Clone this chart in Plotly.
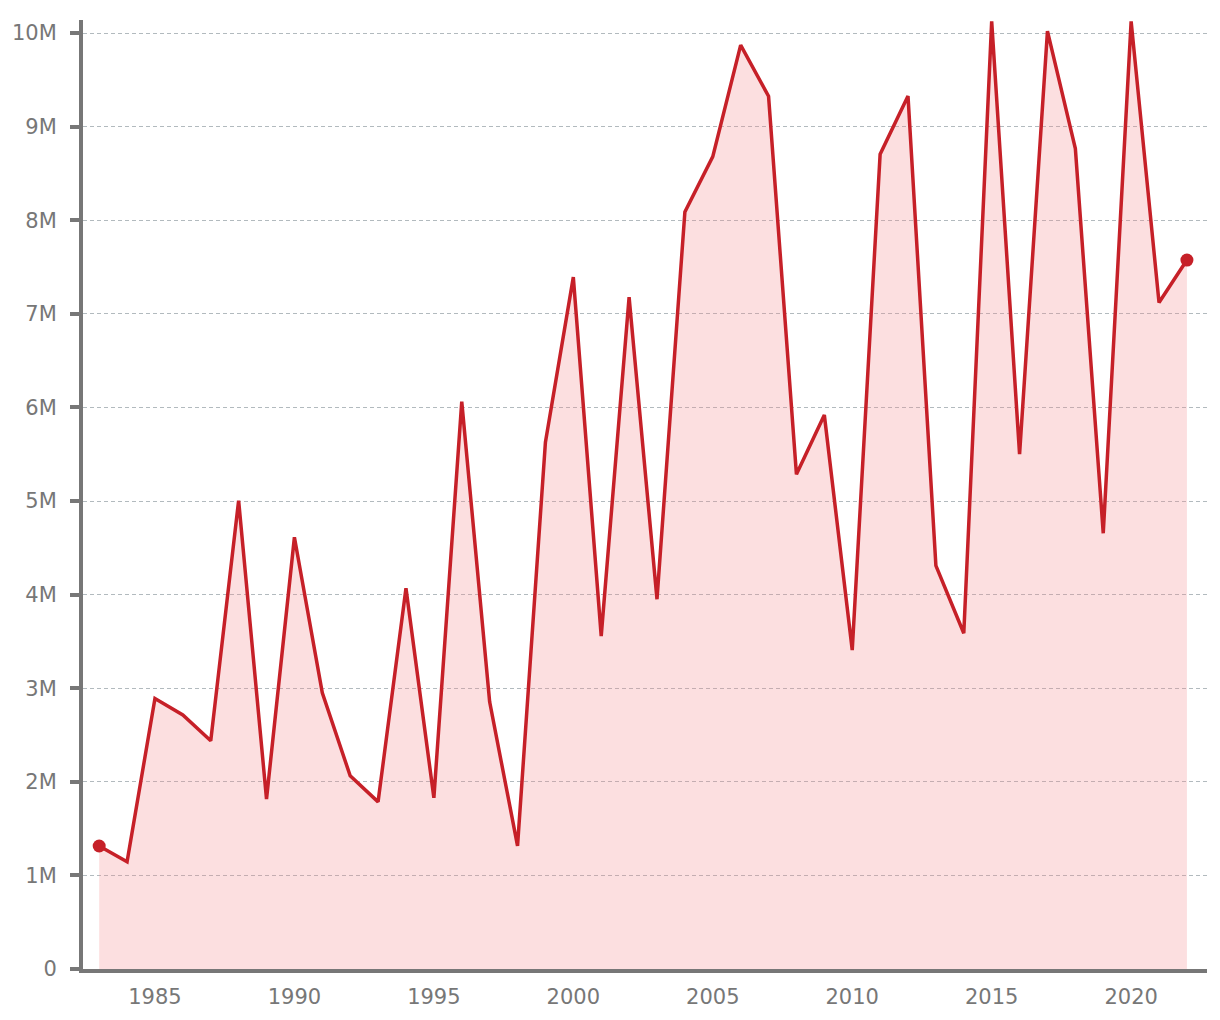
import plotly.graph_objects as go

years = list(range(1983, 2023))
values_m = [1.314, 1.146, 2.89, 2.714, 2.438, 5.005, 1.816, 4.613, 2.95, 2.064,
            1.786, 4.068, 1.829, 6.063, 2.855, 1.316, 5.63, 7.393, 3.558, 7.179,
            3.951, 8.09, 8.68, 9.872, 9.325, 5.286, 5.919, 3.408, 8.705, 9.327,
            4.31, 3.587, 10.125, 5.502, 10.021, 8.766, 4.656, 10.125, 7.121, 7.575]
values = [v * 1e6 for v in values_m]

y_tick_vals = [i * 1e6 for i in range(0, 11)]
y_tick_text = ["0"] + [f"{i}M" for i in range(1, 11)]
x_tick_vals = [1985, 1990, 1995, 2000, 2005, 2010, 2015, 2020]

line_color = "#c62028"
axis_color = "#777777"
font_family = "DejaVu Sans"

fig = go.Figure()
fig.add_trace(go.Scatter(
    x=years, y=values, mode="lines",
    line=dict(color=line_color, width=3.5),
    fill="tozeroy", fillcolor="rgba(245,140,145,0.28)",
    hoverinfo="x+y", showlegend=False,
))
fig.add_trace(go.Scatter(
    x=[years[0], years[-1]], y=[values[0], values[-1]], mode="markers",
    marker=dict(color=line_color, size=13),
    showlegend=False,
))

fig.update_layout(
    width=1220, height=1020,
    margin=dict(l=83, r=13, t=20, b=51, autoexpand=False),
    paper_bgcolor="white", plot_bgcolor="white",
    font=dict(family=font_family, size=21, color=axis_color),
)
fig.update_xaxes(
    range=[1982.42, 2022.72],
    tickvals=x_tick_vals,
    showgrid=False, zeroline=False, automargin=False,
    showline=True, linecolor=axis_color, linewidth=4,
    ticks="", ticklabelstandoff=6,
    tickfont=dict(family=font_family, size=21, color=axis_color),
)
fig.update_yaxes(
    range=[0, 10.14e6],
    tickvals=y_tick_vals, ticktext=y_tick_text,
    showgrid=True, gridcolor="#b2babe", gridwidth=1, griddash="4px,3px",
    zeroline=False, automargin=False,
    showline=True, linecolor=axis_color, linewidth=4,
    ticks="outside", ticklen=9, tickwidth=4, tickcolor=axis_color,
    ticklabelstandoff=9,
    tickfont=dict(family=font_family, size=21, color=axis_color),
)

fig.write_html("out.html")
